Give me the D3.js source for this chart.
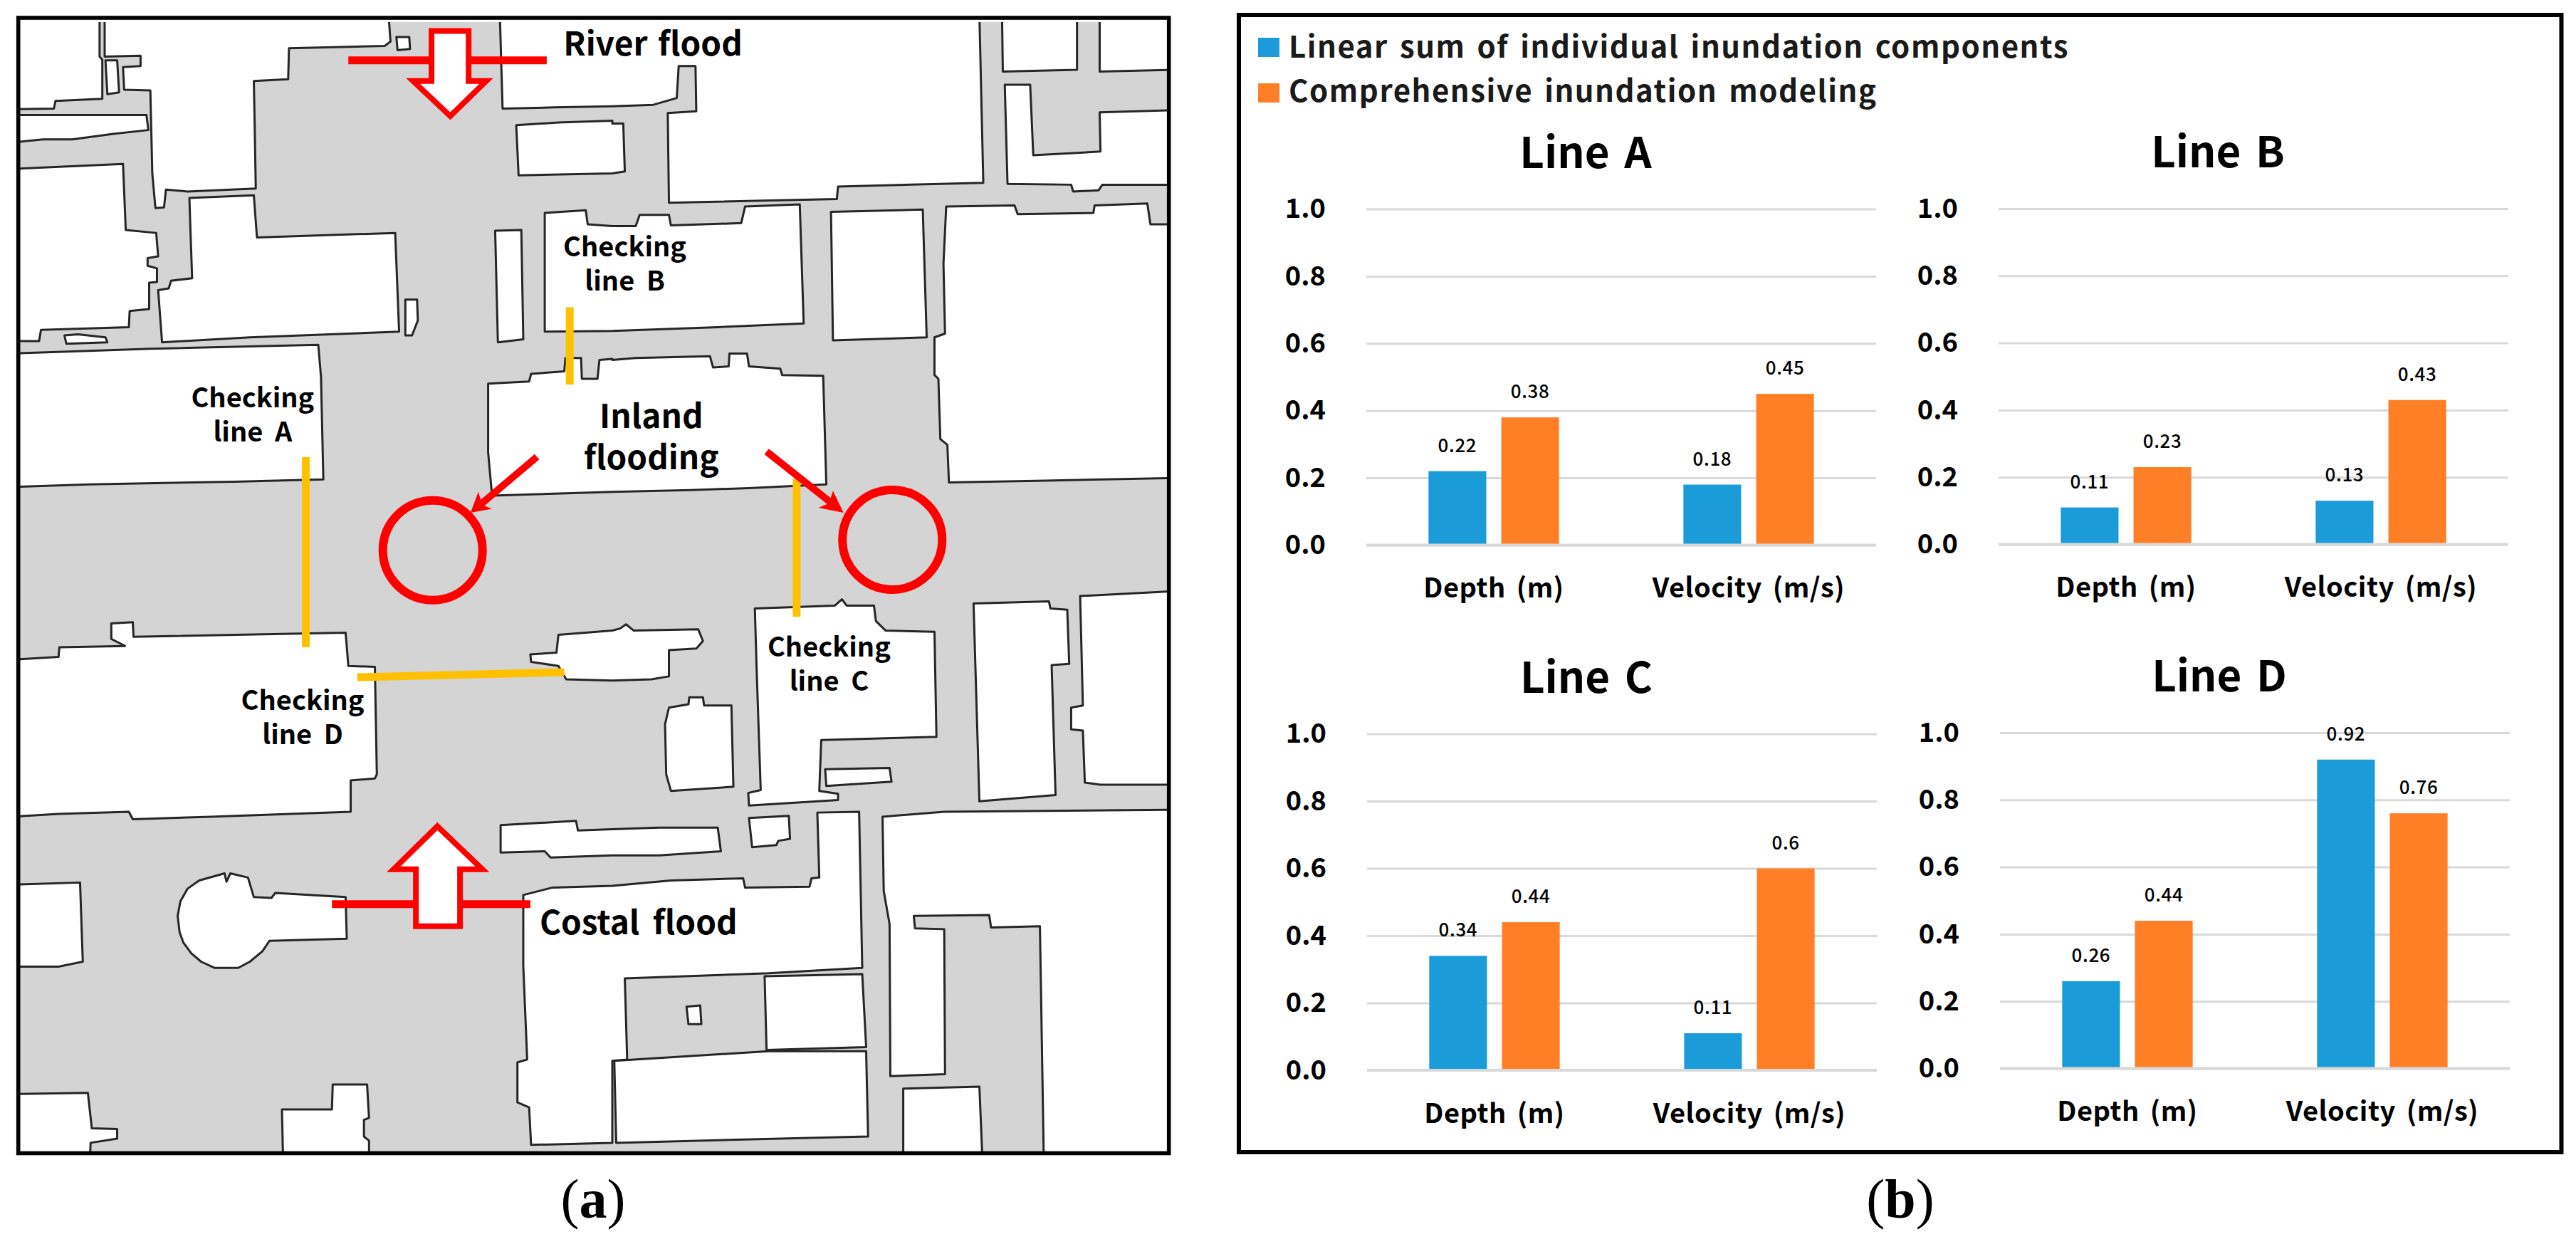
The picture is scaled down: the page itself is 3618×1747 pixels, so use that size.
<!DOCTYPE html>
<html><head><meta charset="utf-8">
<script src="https://cdn.jsdelivr.net/npm/d3@7"></script>
<style>html,body{margin:0;padding:0;background:#fff}svg{display:block}</style>
</head><body><svg id="fig" width="3618" height="1747"></svg>
<script>
// ---------- chart data ----------
const categories = ["Depth (m)", "Velocity (m/s)"];
const panelNames = ["Line A", "Line B", "Line C", "Line D"];
const seriesNames = ["Linear sum of individual inundation components", "Comprehensive inundation modeling"];
const linearSum = [[0.22, 0.18], [0.11, 0.13], [0.34, 0.11], [0.26, 0.92]];
const comprehensive = [[0.38, 0.45], [0.23, 0.43], [0.44, 0.6], [0.44, 0.76]];
const tickValues = [0, 0.2, 0.4, 0.6, 0.8, 1.0];
const colors = ["#1b9cd9", "#ff7f27"];

// ---------- map data: traced outlines, each part in one of four crop frames ----------
const buildings = [
 [["a",30,40,255,40,255,150,262,158,262,262,142,268,138,288,30,290]],
 [["a",268,40,995,40,1000,110,985,122,740,128,738,210,650,215,652,320,655,500,480,508,425,503,420,550,398,552,390,460,385,240,318,238,315,178,360,175,360,148,268,150]],
 [["a",270,160,300,160,305,245,275,250]],
 [["a",30,305,375,305,380,345,290,355,185,370,110,370,30,378]],
 [["a",30,448,100,445,315,435,322,610,400,618,405,680,378,685,378,705,402,712,402,748,382,750,382,820,332,825,330,868,105,875,100,905,30,905]],
 [["a",165,890,200,887,270,895,275,908,170,912]],
 [["a",485,525,650,518,658,630,1012,618,1022,880,640,895,415,908,405,770,432,765,438,745,492,738,488,620]],
 [["a",1038,795,1068,795,1070,850,1055,890,1038,890]],
 [["a",1015,98,1048,98,1050,130,1018,133]],
 [["a",30,938,388,925,815,915,822,1000,828,1272,600,1278,230,1285,30,1292]],
 [["a",1268,612,1335,610,1340,900,1275,908]],
 [["a",1280,40,1287,288,1420,285,1568,282],["b",0,282,105,278,165,260,170,175,213,175,215,295,142,300,145,538,575,528,578,495,950,485,940,40]],
 [["a",1322,332,1430,325,1568,320],["b",0,328,28,328,32,455,0,460],["a",1568,460,1328,465]],
 [["a",1395,565,1500,558,1505,595,1568,600],["b",0,600,60,600,70,570,145,570,150,598,330,592,340,548,480,542,490,858,270,868,0,878],["a",1568,878,1395,880]],
 [["a",1250,1018,1355,1012,1360,992,1445,985,1448,950,1488,950,1490,1005,1530,1005,1535,955,1568,952],["b",0,955,60,950,250,945,258,975,298,972,300,938,345,938,350,972,430,978,435,995,540,997,548,1285,350,1295,200,1300,0,1305],["a",1568,1305,1260,1315,1250,1200]],
 [["b",998,40,1000,190,1190,185,1190,40]],
 [["b",1248,40,1248,190,1450,185,1450,40]],
 [["b",1005,225,1070,225,1078,412,1250,402,1248,298,1450,292,1450,490,1255,490,1245,505,1180,508,1175,490,1012,488]],
 [["b",560,562,795,556,805,895,565,903]],
 [["b",855,548,1030,545,1038,568,1232,565,1235,545,1370,540,1378,595,1450,595,1450,1268,1110,1275,862,1280,858,1180,840,1165,835,1005,825,995,825,895,852,885,848,700]],
 [["c",30,165,150,158,152,135,320,132,285,115,285,78,340,75,342,110,885,100,892,180,960,182,965,440,960,450,898,455,898,530,540,542,340,548,330,530,150,535,30,542]],
 [["c",30,705,205,700,212,890,150,902,30,902]],
 [["c",455,780,462,745,480,715,510,695,575,678,580,698,590,678,635,688,650,735,695,737,705,725,885,735,888,835,690,840,672,865,640,890,610,905,550,905,515,890,490,870,470,845,460,820]],
 [["c",30,1208,225,1205,235,1290,300,1292,300,1315,232,1325,230,1370,30,1370]],
 [["c",722,1245,850,1245,852,1185,940,1185,945,1265,932,1270,932,1310,945,1320,945,1370,725,1370]],
 [["c",1282,562,1475,552,1480,575,1568,572],["d",0,572,120,568,270,568,278,625,120,635,0,635],["c",1568,635,1410,640,1395,625,1282,628]],
 [["c",1430,105,1568,95],["d",0,95,20,90,35,80,55,95,220,92,232,120,215,138,145,142,145,205,100,212,0,215],["c",1568,215,1450,212,1430,180,1360,170,1358,152,1425,148]],
 [["c",1340,730,1415,712,1568,708],["d",0,708,150,695,335,690,340,712,505,710,510,690,530,688,525,532,632,530,640,905,400,918,32,930,38,1125,0,1128,0,1325],["c",1568,1325,1360,1330,1355,1240,1325,1228,1325,1132,1350,1125,1340,900]],
 [["d",390,925,640,920,650,1095,395,1102]],
 [["d",5,1128,400,1105,650,1105,655,1310,300,1318,10,1325]],
 [["d",190,998,225,995,228,1040,195,1040]],
 [["d",365,42,570,35,588,20,600,35,670,35,675,72,700,95,825,98,830,350,535,358,530,480,578,487,578,502,350,515,348,485,380,478,370,200]],
 [["d",545,428,710,425,715,458,548,468]],
 [["d",350,545,452,540,455,595,425,600,420,610,358,615]],
 [["d",145,280,195,272,197,255,232,255,235,275,305,275,310,470,150,480,138,440,135,320]],
 [["d",925,30,1118,25,1122,42,1165,45,1170,175,1125,178,1135,490,940,505]],
 [["d",1198,12,1450,0,1450,465,1250,465,1210,460,1205,335,1175,332,1175,280,1205,275]],
 [["d",692,542,850,530,1450,525,1450,1370,1105,1370,1095,805,970,808,965,778,772,780,775,810,850,812,852,1160,712,1165,710,800,695,720]],
 [["d",745,1195,940,1190,948,1370,745,1370]],
];
const floodArrows = [
 [["a",1105,82,1200,82,1200,215,1245,215,1153,308,1058,215,1105,215]],
 [["c",1120,565,1235,668,1178,668,1178,805,1065,805,1065,668,1008,668]],
];
const redBars = [
 [["a",892,160,1105,160]],[["a",1200,160,1400,160]],
 [["c",850,752,1065,752]],[["c",1178,752,1358,752]],
];
const checkLines = [
 [["a",783,1213,783,1568],["c",783,0,783,135]],
 [["a",1459,815,1459,1020]],
 [["b",472,1270,472,1568],["d",472,0,472,62]],
 [["c",915,207,1445,195]],
];
const circles = [["a",1108,1460],["b",717,1432]];
const inlandShafts = [[["a",1375,1212,1222,1346]],[["b",395,1198,568,1340]]];
const inlandHeads = [[["a",1225,1305,1205,1360,1260,1350,1235,1340]],[["b",565,1302,592,1360,528,1347,555,1335]]];
const mapLabels = [
 {t:["River flood"],f:"a",x:1672,y:148,s:46,w:4},
 {t:["Checking","line A"],f:"a",x:647,y:1080,s:38,w:8},
 {t:["Checking","line B"],f:"a",x:1600,y:680,s:38,w:8},
 {t:["Checking","line C"],f:"d",x:555,y:158,s:38,w:8},
 {t:["Checking","line D"],f:"c",x:775,y:285,s:38,w:8},
 {t:["Inland","flooding"],f:"a",x:1668,y:1135,s:46,w:0},
 {t:["Costal flood"],f:"c",x:1635,y:825,s:46,w:8},
];

// ---------- map frames ----------
const xL = d3.scaleLinear([0,1568],[0,860]), xR = d3.scaleLinear([0,1568],[860,1720]);
const yT = d3.scaleLinear([0,1568],[0,830]), yB = d3.scaleLinear([0,1568],[830,1747]);
const fx = {a:xL,b:xR,c:xL,d:xR}, fy = {a:yT,b:yT,c:yB,d:yB};
const pts = poly => poly.flatMap(([f,...v]) => d3.range(0,v.length,2).map(i => [fx[f](v[i]),fy[f](v[i+1])]));
const closed = d3.line(), svg = d3.select("#fig");
const FONT = "'Noto Sans CJK KR','Noto Sans',sans-serif";

// ---------- panel (a) ----------
const a = svg.append("g");
svg.append("defs").append("clipPath").attr("id","mapclip").append("rect").attr("x",28).attr("y",31).attr("width",1611).attr("height",1586);
a.append("rect").attr("x",28).attr("y",31).attr("width",1611).attr("height",1586).attr("fill","#d4d4d4");
const m = a.append("g").attr("clip-path","url(#mapclip)");
m.selectAll("path.b").data(buildings).join("path").attr("class","b")
 .attr("d",p=>closed(pts(p))+"Z").attr("fill","#fff").attr("stroke","#262626").attr("stroke-width",3).attr("stroke-linejoin","round");
m.selectAll("path.c").data(checkLines).join("path").attr("class","c")
 .attr("d",p=>closed(pts(p))).attr("fill","none").attr("stroke","#ffc000").attr("stroke-width",11);
m.selectAll("path.r").data(redBars).join("path").attr("class","r")
 .attr("d",p=>closed(pts(p))).attr("fill","none").attr("stroke","#ff0000").attr("stroke-width",11);
m.selectAll("path.f").data(floodArrows).join("path").attr("class","f")
 .attr("d",p=>closed(pts(p))+"Z").attr("fill","#fff").attr("stroke","#ff0000").attr("stroke-width",8);
m.selectAll("circle").data(circles).join("circle")
 .attr("cx",d=>fx[d[0]](d[1])).attr("cy",d=>fy[d[0]](d[2])).attr("r",70).attr("fill","none").attr("stroke","#ff0000").attr("stroke-width",12);
m.selectAll("path.s").data(inlandShafts).join("path").attr("class","s")
 .attr("d",p=>closed(pts(p))).attr("fill","none").attr("stroke","#ff0000").attr("stroke-width",10);
m.selectAll("path.h").data(inlandHeads).join("path").attr("class","h")
 .attr("d",p=>closed(pts(p))+"Z").attr("fill","#ff0000");
mapLabels.forEach(l=>{
 const tx=a.append("text").attr("text-anchor","middle").attr("font-family",FONT).attr("font-weight",700).attr("font-size",l.s)
   .attr("word-spacing",l.w).attr("fill","#000");
 l.t.forEach((s,i)=>{
  tx.append("tspan").attr("x",fx[l.f](l.x)).attr("y",fy[l.f](l.y)+i*(l.s>40?58:48)).text(s);
 });
});
a.append("rect").attr("x",25.7).attr("y",25).attr("width",1616).attr("height",1594.5).attr("fill","none").attr("stroke","#000").attr("stroke-width",5.6);

// ---------- panel (b) ----------
const b = svg.append("g");
b.append("rect").attr("x",1740).attr("y",21).attr("width",1857.5).attr("height",1597).attr("fill","none").attr("stroke","#000").attr("stroke-width",6);
seriesNames.forEach((s,i)=>{
 const yy=[81,143][i];
 b.append("rect").attr("x",1767).attr("y",yy-[28,26][i]).attr("width",30).attr("height",27).attr("fill",colors[i]);
 b.append("text").attr("x",1810).attr("y",yy).attr("font-family",FONT).attr("font-weight",700).attr("font-size",42)
  .attr("letter-spacing",1.5).attr("word-spacing",5).attr("fill","#1a1a1a").text(s);
});
const panels = [{l:1919,t:293.5,b:765.5},{l:2807,t:293,b:764.5},{l:1920,t:1030.5,b:1503},{l:2809,t:1029,b:1500.5}];
const plotW = 716;
panelNames.forEach((name,pi)=>{
 const P = panels[pi], g = b.append("g");
 const y = d3.scaleLinear([0,1],[P.b,P.t]);
 const x0 = d3.scaleBand(categories,[P.l,P.l+plotW]);
 const x1 = d3.scaleBand([0,1],[0,x0.bandwidth()]).paddingInner(0.206).paddingOuter(0.855);
 const yAxis = g.append("g").attr("transform",`translate(${P.l},0)`)
   .call(d3.axisLeft(y).tickValues(tickValues).tickFormat(d3.format(".1f")).tickSize(-plotW).tickPadding(57));
 yAxis.select(".domain").remove();
 yAxis.selectAll("line").attr("stroke","#d9d9d9").attr("stroke-width",3);
 yAxis.selectAll("text").attr("font-family",FONT).attr("font-weight",700).attr("font-size",38).attr("fill","#000");
 const groups=[linearSum[pi],comprehensive[pi]];
 groups.forEach((vals,si)=>{
  vals.forEach((v,ci)=>{
   const bx=x0(categories[ci])+x1(si);
   g.append("rect").attr("x",bx).attr("y",y(v)).attr("width",x1.bandwidth()).attr("height",y(0)-y(v)-1).attr("fill",colors[si]);
   g.append("text").attr("x",bx+x1.bandwidth()/2).attr("y",y(v)-27).attr("text-anchor","middle")
    .attr("font-family",FONT).attr("font-weight",500).attr("font-size",26).attr("letter-spacing",0.6).attr("fill","#000").text(String(v));
  });
 });
 g.append("line").attr("x1",P.l).attr("x2",P.l+plotW).attr("y1",y(0)).attr("y2",y(0)).attr("stroke","#d9d9d9").attr("stroke-width",4);
 const xAxis = g.append("g").attr("transform",`translate(0,${P.b})`).call(d3.axisBottom(x0).tickSize(0).tickPadding(47));
 xAxis.select(".domain").remove();
 xAxis.selectAll("text").attr("font-family",FONT).attr("font-weight",700).attr("font-size",38)
   .attr("letter-spacing",0.5).attr("word-spacing",6).attr("fill","#000");
 g.append("text").attr("x",P.l+308).attr("y",P.t-58).attr("text-anchor","middle").attr("font-family",FONT).attr("font-weight",700)
   .attr("font-size",60).attr("word-spacing",7).attr("fill","#000").text(name);
});

// ---------- subfigure labels ----------
[["a",833],["b",2669]].forEach(([c,x])=>{
 const t=svg.append("text").attr("x",x).attr("y",1710).attr("text-anchor","middle").attr("font-family","'Liberation Serif',serif").attr("font-size",78).attr("fill","#000");
 t.append("tspan").text("(");t.append("tspan").attr("font-weight",700).text(c);t.append("tspan").text(")");
});
</script></body></html>
